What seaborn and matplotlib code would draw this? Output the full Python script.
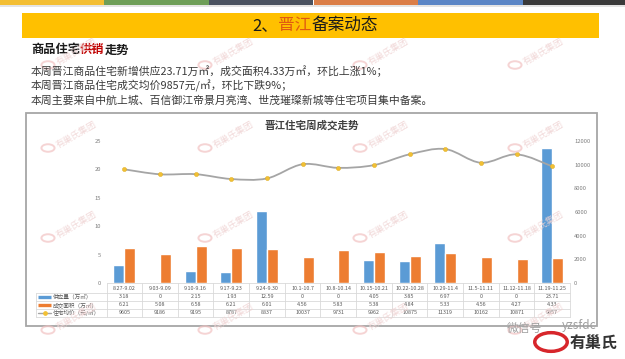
import numpy as np
import pandas as pd
import matplotlib
matplotlib.use("Agg")
import matplotlib.pyplot as plt
import seaborn as sns
from matplotlib.patches import Rectangle, Circle, PathPatch
from matplotlib.path import Path
from matplotlib.lines import Line2D
import matplotlib.transforms as mtransforms

# ---------------- data ----------------
weeks = ["8.27-9.02", "9.03-9.09", "9.10-9.16", "9.17-9.23", "9.24-9.30", "10.1-10.7",
         "10.8-10.14", "10.15-10.21", "10.22-10.28", "10.29-11.4", "11.5-11.11",
         "11.12-11.18", "11.19-11.25"]
supply = [3.18, 0, 2.15, 1.93, 12.59, 0, 0, 4.05, 3.85, 6.97, 0, 0, 23.71]
deal_area = [6.21, 5.08, 6.58, 6.21, 6.01, 4.56, 5.83, 5.38, 4.84, 5.33, 4.56, 4.27, 4.33]
avg_price = [9605, 9186, 9195, 8787, 8837, 10037, 9731, 9962, 10875, 11319, 10162, 10871, 9857]
series_names = ["供应量（万㎡）", "成交面积（万㎡）", "住宅均价（元/㎡）"]
left_ticks = [0, 5, 10, 15, 20, 25]
right_ticks = [0, 2000, 4000, 6000, 8000, 10000, 12000]

chart_title = "晋江住宅周成交走势"
body_lines = [
    "本周晋江商品住宅新增供应23.71万㎡，成交面积4.33万㎡，环比上涨1%；",
    "本周晋江商品住宅成交均价9857元/㎡，环比下跌9%；",
    "本周主要来自中航上城、百信御江帝景月亮湾、世茂璀璨新城等住宅项目集中备案。",
]

# ---------------- style ----------------
BLUE = "#5B9BD5"
ORANGE = "#ED7D31"
LINE_GRAY = "#A5A5A5"
DOT = "#F2C033"
GRID = "#D9D9D9"
TXT = "#595959"

sns.set_theme(style="white")
plt.rcParams["font.family"] = ["Noto Sans CJK SC", "DejaVu Sans"]

W, H = 625, 359
fig = plt.figure(figsize=(6.25, 3.59), dpi=100)
fig.patch.set_facecolor("white")


def fx(x):
    return x / W


def fy(y):
    return 1 - y / H


# ---------------- slide decoration ----------------
stripe_cols = ["#F3BE33", "#6E9E57", "#4A5260", "#DB7E47", "#5B86C6", "#3A3A3A"]
for i, c in enumerate(stripe_cols):
    fig.add_artist(Rectangle((fx(i * 104.5), fy(5)), fx(104.5), 5 / H,
                             transform=fig.transFigure, color=c, lw=0))
fig.add_artist(Rectangle((0, fy(7)), 1, 2 / H, transform=fig.transFigure,
                         color="#E4E4E4", lw=0))

# banner
fig.add_artist(Rectangle((fx(22), fy(38)), fx(577), 25 / H, transform=fig.transFigure,
                         color="#FFC000", lw=0))
t1 = fig.text(fx(252), fy(25.5), "2、", fontsize=12, color="#1a1a1a", va="center", ha="left")
t2 = fig.text(0, 0, "晋江", fontsize=12, color="#E05A10", va="center", ha="left")
t3 = fig.text(0, 0, "备案动态", fontsize=12, color="#1a1a1a", va="center", ha="left")

# header line
h1 = fig.text(fx(31), fy(50), "商品住宅", fontsize=8.8, fontweight="bold", color="#1a1a1a", va="center")
h2 = fig.text(0, 0, "供销", fontsize=8.8, fontweight="bold", color="#C00000", va="center")
h3 = fig.text(0, 0, "走势", fontsize=8.8, fontweight="bold", color="#1a1a1a", va="center")

for k, line in enumerate(body_lines):
    fig.text(fx(31), fy([71, 86, 101][k]), line, fontsize=7.8, color="#3a3a3a", va="center")

# chain coloured pieces
fig.canvas.draw()
r = fig.canvas.get_renderer()


def chain(prev, nxt):
    bb = prev.get_window_extent(r)
    x1 = bb.x1 / fig.bbox.width
    nxt.set_position((x1, prev.get_position()[1]))


chain(t1, t2)
chain(t2, t3)
chain(h1, h2)
chain(h2, h3)

# chart box
fig.add_artist(Rectangle((fx(26), fy(326)), fx(571), 213 / H, transform=fig.transFigure,
                         facecolor="none", edgecolor="#A6A6A6", lw=1.3))
fig.text(fx(312), fy(125), chart_title, fontsize=7.6, fontweight="bold", color="#404040",
         ha="center", va="center")

# ---------------- plot ----------------
ax = fig.add_axes([fx(106.5), fy(283), (570 - 106.5) / W, (283 - 141) / H])
ax.set_facecolor("none")
df = pd.DataFrame({
    "week": weeks * 2,
    "value": supply + deal_area,
    "series": [series_names[0]] * len(weeks) + [series_names[1]] * len(weeks),
})
sns.barplot(data=df, x="week", y="value", hue="series", order=weeks,
            hue_order=series_names[:2], palette=[BLUE, ORANGE], width=0.62,
            saturation=1, legend=False, ax=ax)
ax.set_xlim(-0.5, len(weeks) - 0.5)
ax.set_ylim(0, 25)
ax.set_yticks(left_ticks)
ax.tick_params(axis="y", length=0, labelsize=4.2, labelcolor="#7F7F7F", pad=4)
ax.tick_params(axis="x", length=0, labelbottom=False)
ax.set_xlabel("")
ax.set_ylabel("")
for s in ax.spines.values():
    s.set_visible(False)

ax2 = ax.twinx()
ax2.set_ylim(0, 12000)
ax2.set_yticks(right_ticks)
ax2.tick_params(axis="y", length=0, labelsize=4.2, labelcolor="#7F7F7F", pad=3)
for s in ax2.spines.values():
    s.set_visible(False)

# smoothed price line (Bezier through the data points)
xs = np.arange(len(avg_price), dtype=float)
pts = np.column_stack([xs, np.array(avg_price, dtype=float)])
verts = [tuple(pts[0])]
codes = [Path.MOVETO]
n = len(pts)
for i in range(n - 1):
    p0 = pts[i - 1] if i > 0 else pts[i]
    p1 = pts[i]
    p2 = pts[i + 1]
    p3 = pts[i + 2] if i + 2 < n else pts[i + 1]
    c1 = p1 + (p2 - p0) / 6.0
    c2 = p2 - (p3 - p1) / 6.0
    verts += [tuple(c1), tuple(c2), tuple(p2)]
    codes += [Path.CURVE4] * 3
ax2.add_patch(PathPatch(Path(verts, codes), facecolor="none", edgecolor=LINE_GRAY,
                        lw=1.3, zorder=2))
sns.scatterplot(x=xs, y=avg_price, ax=ax2, color=DOT, s=9, edgecolor="#D9A81C",
                linewidth=0.3, zorder=3, legend=False)
ax2.set_xlim(-0.5, len(weeks) - 0.5)
ax2.set_ylabel("")
ax2.set_xlabel("")

# ---------------- data table ----------------
blend = mtransforms.blended_transform_factory(ax.transData, fig.transFigure)
row_y = [297, 305, 313]
for i in range(len(weeks) + 1):
    fig.add_artist(Line2D([i - 0.5, i - 0.5], [fy(283), fy(317)], transform=blend,
                          color=GRID, lw=0.6))
fig.add_artist(Line2D([fx(36), fx(36)], [fy(293), fy(317)], transform=fig.transFigure,
                      color=GRID, lw=0.6))
fig.add_artist(Line2D([-0.5, len(weeks) - 0.5], [fy(283), fy(283)], transform=blend,
                      color=GRID, lw=0.6))
for yy in [293, 301, 309, 317]:
    fig.add_artist(Line2D([fx(36), fx(570)], [fy(yy), fy(yy)], transform=fig.transFigure,
                          color=GRID, lw=0.6))

for i, w in enumerate(weeks):
    fig.text(i, fy(288.5), w, transform=blend, fontsize=3.9, color=TXT, ha="center", va="center")
    fig.text(i, fy(row_y[0]), f"{supply[i]:g}", transform=blend, fontsize=3.9, color=TXT,
             ha="center", va="center")
    fig.text(i, fy(row_y[1]), f"{deal_area[i]:g}", transform=blend, fontsize=3.9, color=TXT,
             ha="center", va="center")
    fig.text(i, fy(row_y[2]), f"{avg_price[i]:g}", transform=blend, fontsize=3.9, color=TXT,
             ha="center", va="center")

# legend keys in the table
fig.add_artist(Line2D([fx(38), fx(51)], [fy(row_y[0])] * 2, transform=fig.transFigure,
                      color=BLUE, lw=2.4, solid_capstyle="butt"))
fig.add_artist(Line2D([fx(38), fx(51)], [fy(row_y[1])] * 2, transform=fig.transFigure,
                      color=ORANGE, lw=2.4, solid_capstyle="butt"))
fig.add_artist(Line2D([fx(38), fx(51)], [fy(row_y[2])] * 2, transform=fig.transFigure,
                      color=LINE_GRAY, lw=1.0))
fig.add_artist(Line2D([fx(44.5)], [fy(row_y[2])], transform=fig.transFigure,
                      color=DOT, marker="o", ms=2.4, lw=0))
for k in range(3):
    fig.text(fx(53), fy(row_y[k]), series_names[k], fontsize=4.1, color=TXT, va="center")

# ---------------- watermarks ----------------
for wx in [48, 205, 360, 515]:
    for wy in [65, 148, 238, 330]:
        fig.add_artist(Circle((fx(wx), fy(wy)), 0.0105, transform=fig.transFigure,
                              facecolor="none", edgecolor="#F2C2C2", lw=1.4, alpha=0.7))
        fig.text(fx(wx + 9), fy(wy - 2), "有巢氏集团", fontsize=6.5, color="#EFD2D2",
                 rotation=30, rotation_mode="anchor", va="center", ha="left", alpha=0.85)

# bottom-right brand
fig.text(fx(507), fy(328), "微信号", fontsize=8.5, color="#A0A0A0", va="center")
fig.text(fx(562), fy(326), "yzsfdc", fontsize=8.5, color="#A0A0A0", va="center", style="italic")
fig.add_artist(Circle((fx(551), fy(342)), 0.026, transform=fig.transFigure,
                      facecolor="none", edgecolor="#D7262B", lw=2.5))
fig.text(fx(570), fy(343), "有巢氏", fontsize=11.5, fontweight="bold", color="#333333",
         va="center", style="italic")

fig.savefig("out.png", dpi=100, facecolor="white")
